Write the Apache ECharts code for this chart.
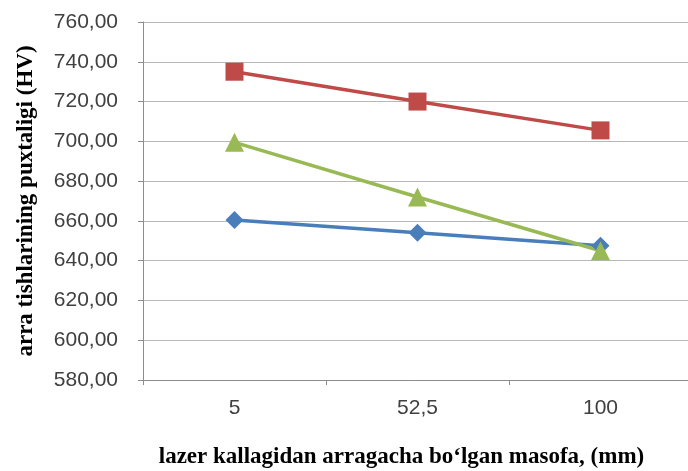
<!DOCTYPE html>
<html><head><meta charset="utf-8">
<script src="https://cdn.jsdelivr.net/npm/echarts@6/dist/echarts.min.js"></script>
<style>html,body{margin:0;padding:0;background:#fff}#c{width:688px;height:471px}</style>
</head><body><div id="c"></div>
<script>
const categories = ['5', '52,5', '100'];
const seriesBlue = [660.5, 654, 647.5];
const seriesRed = [735, 720, 705.5];
const seriesGreen = [699.5, 672, 645];
const yMin = 580, yMax = 760, yStep = 20;

const chart = echarts.init(document.getElementById('c'));
chart.setOption({
  backgroundColor: '#fff',
  animation: false,
  grid: { left: 143, right: -4, top: 22, bottom: 91, containLabel: false, outerBoundsMode: 'none' },
  xAxis: {
    type: 'category', data: categories, boundaryGap: true,
    name: 'lazer kallagidan arragacha bo\u2018lgan masofa, (mm)',
    nameLocation: 'middle', nameGap: 66,
    nameTextStyle: { fontFamily: 'Liberation Serif', fontWeight: 'bold', fontSize: 23, color: '#000', padding: [0, 32, 0, 0] },
    axisLine: { lineStyle: { color: '#8c8c8c', width: 1 } },
    axisTick: { show: true, length: 5, lineStyle: { color: '#8c8c8c' } },
    axisLabel: { fontFamily: 'Liberation Sans', fontSize: 21, color: '#404040', margin: 18 },
    splitLine: { show: false }
  },
  yAxis: {
    type: 'value', min: yMin, max: yMax, interval: yStep,
    name: 'arra tishlarining puxtaligi (HV)',
    nameLocation: 'middle', nameGap: 105, nameRotate: 90,
    nameTextStyle: { fontFamily: 'Liberation Serif', fontWeight: 'bold', fontSize: 23, color: '#000' },
    axisLine: { show: true, lineStyle: { color: '#8c8c8c', width: 1 } },
    axisTick: { show: true, length: 5, lineStyle: { color: '#8c8c8c' } },
    axisLabel: { fontFamily: 'Liberation Sans', fontSize: 21, color: '#404040', margin: 25,
      formatter: v => v.toFixed(2).replace('.', ',') },
    splitLine: { show: true, lineStyle: { color: '#b8b8b8', width: 1 } }
  },
  series: [
    { type: 'line', data: seriesBlue, symbol: 'diamond', symbolSize: 18,
      lineStyle: { color: '#4A7EBB', width: 3.5 }, itemStyle: { color: '#4A7EBB' } },
    { type: 'line', data: seriesRed, symbol: 'rect', symbolSize: 18,
      lineStyle: { color: '#BE4B48', width: 3.5 }, itemStyle: { color: '#BE4B48' } },
    { type: 'line', data: seriesGreen, symbol: 'triangle', symbolSize: 19,
      lineStyle: { color: '#98B954', width: 3.5 }, itemStyle: { color: '#98B954' } }
  ]
});
</script></body></html>
